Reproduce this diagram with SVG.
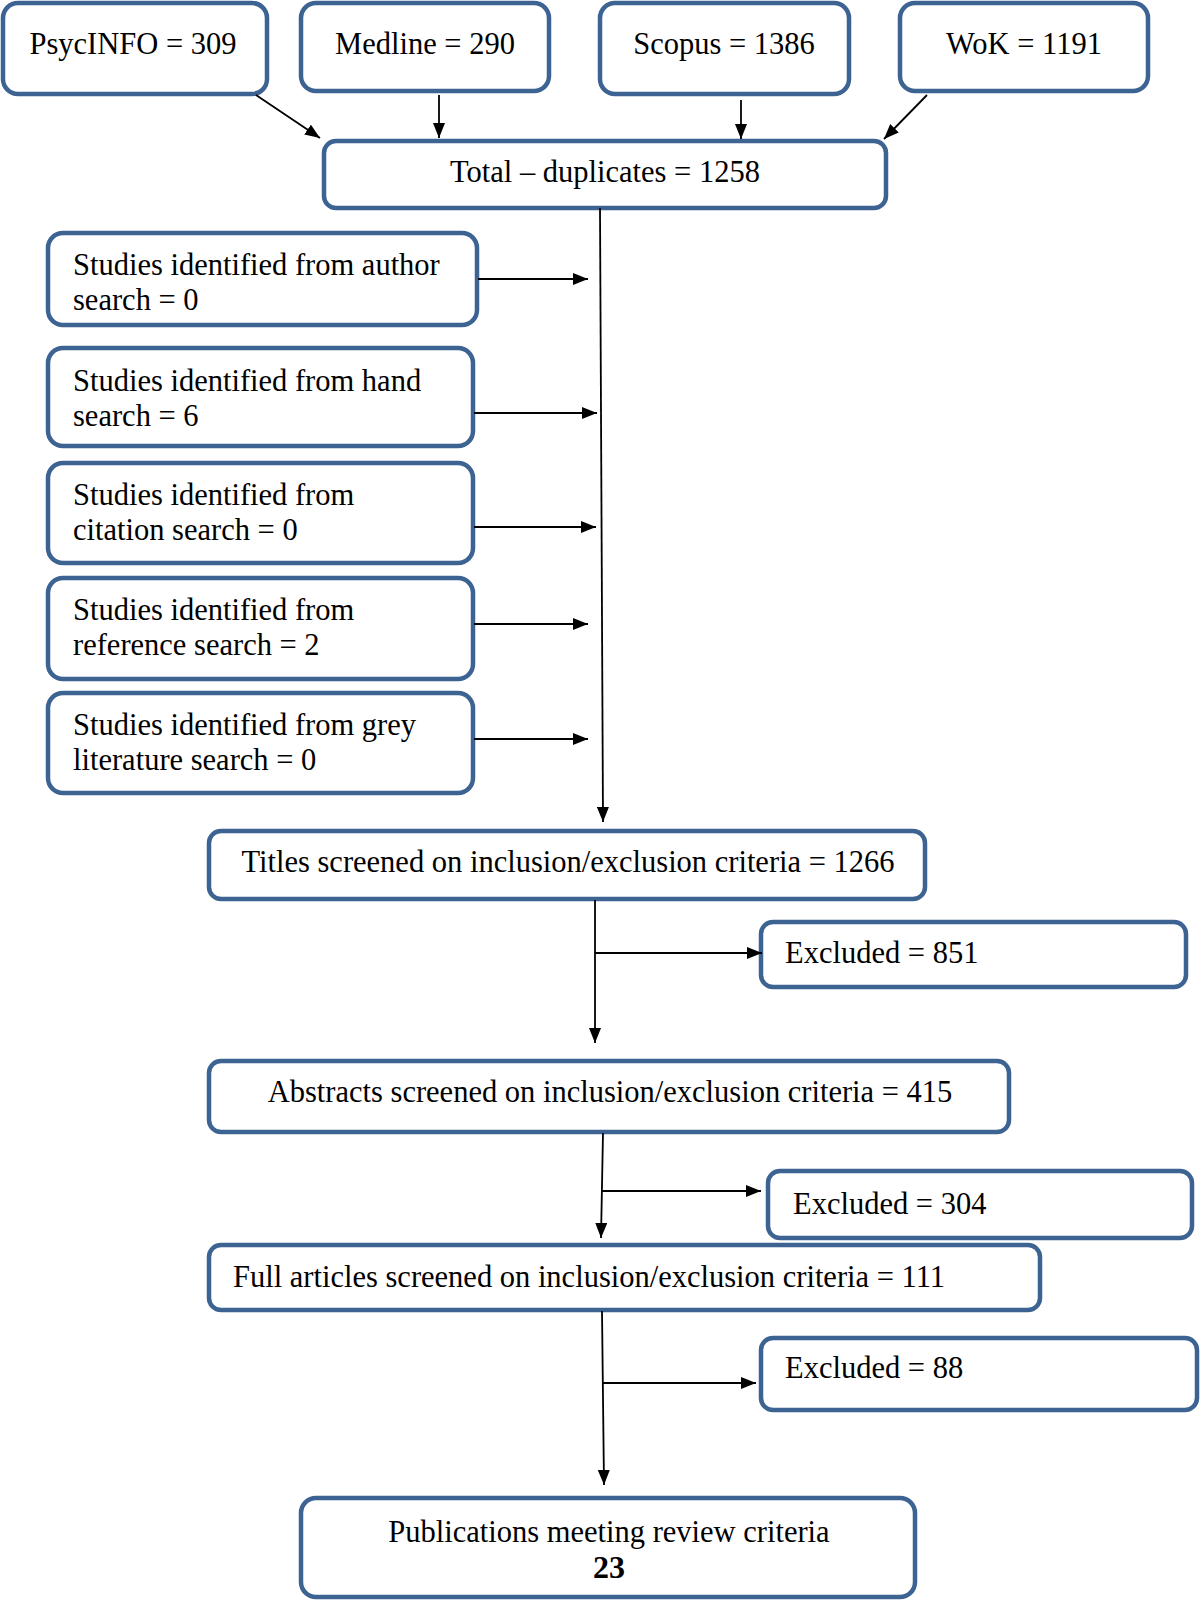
<svg xmlns="http://www.w3.org/2000/svg" width="1200" height="1601" viewBox="0 0 1200 1601">
<style>
.box{fill:#fff;stroke:#3d6393;stroke-width:4.5}
.t{font-family:"Liberation Serif","Times New Roman",serif;font-size:30.5px;fill:#000}
.c{text-anchor:middle}
.b{font-weight:bold}
.ln{stroke:#000;stroke-width:1.8;fill:none;marker-end:url(#ah)}
</style>
<defs>
<marker id="ah" viewBox="0 0 15 12" refX="15" refY="6" markerWidth="15" markerHeight="12" markerUnits="userSpaceOnUse" orient="auto">
<path d="M0,0 L15,6 L0,12 z" fill="#000"/>
</marker>
</defs>
<rect width="1200" height="1601" fill="#fff"/>
<g id="psycinfo"><rect class="box" x="3" y="3" width="264" height="91" rx="15"/><text class="t c" x="133" y="54">PsycINFO = 309</text></g>
<g id="medline"><rect class="box" x="301" y="3" width="248" height="88" rx="15"/><text class="t c" x="425" y="54">Medline = 290</text></g>
<g id="scopus"><rect class="box" x="600" y="3" width="249" height="91" rx="15"/><text class="t c" x="724" y="54">Scopus = 1386</text></g>
<g id="wok"><rect class="box" x="900" y="3" width="248" height="88" rx="15"/><text class="t c" x="1024" y="54">WoK = 1191</text></g>
<g id="total"><rect class="box" x="324" y="141" width="562" height="67" rx="12"/><text class="t c" x="605" y="182">Total – duplicates = 1258</text></g>
<g id="author"><rect class="box" x="48" y="233" width="429" height="92" rx="15"/><text class="t" x="73" y="275">Studies identified from author</text><text class="t" x="73" y="310">search = 0</text></g>
<g id="hand"><rect class="box" x="48" y="348" width="425" height="98" rx="15"/><text class="t" x="73" y="391">Studies identified from hand</text><text class="t" x="73" y="426">search = 6</text></g>
<g id="citation"><rect class="box" x="48" y="463" width="425" height="100" rx="15"/><text class="t" x="73" y="505">Studies identified from</text><text class="t" x="73" y="540">citation search = 0</text></g>
<g id="reference"><rect class="box" x="48" y="578" width="425" height="101" rx="15"/><text class="t" x="73" y="620">Studies identified from</text><text class="t" x="73" y="655">reference search = 2</text></g>
<g id="grey"><rect class="box" x="48" y="693" width="425" height="100" rx="15"/><text class="t" x="73" y="735">Studies identified from grey</text><text class="t" x="73" y="770">literature search = 0</text></g>
<g id="titles"><rect class="box" x="209" y="831" width="716" height="68" rx="12"/><text class="t c" x="568" y="872">Titles screened on inclusion/exclusion criteria = 1266</text></g>
<g id="excl851"><rect class="box" x="761" y="922" width="425" height="65" rx="12"/><text class="t" x="785" y="963">Excluded = 851</text></g>
<g id="abstracts"><rect class="box" x="209" y="1061" width="800" height="71" rx="12"/><text class="t c" x="610" y="1102">Abstracts screened on inclusion/exclusion criteria = 415</text></g>
<g id="excl304"><rect class="box" x="768" y="1171" width="424" height="67" rx="12"/><text class="t" x="793" y="1214">Excluded = 304</text></g>
<g id="full"><rect class="box" x="209" y="1245" width="831" height="65" rx="12"/><text class="t" x="233" y="1287">Full articles screened on inclusion/exclusion criteria = 111</text></g>
<g id="excl88"><rect class="box" x="761" y="1338" width="436" height="72" rx="12"/><text class="t" x="785" y="1378">Excluded = 88</text></g>
<g id="publications"><rect class="box" x="301" y="1498" width="614" height="99" rx="15"/><text class="t c" x="609" y="1542">Publications meeting review criteria</text><text class="t c b" x="609" y="1578" style="font-size:32px">23</text></g>
<g id="connectors">
<line class="ln" x1="256" y1="95" x2="320" y2="138"/>
<line class="ln" x1="439" y1="95" x2="439" y2="138"/>
<line class="ln" x1="741" y1="100" x2="741" y2="139"/>
<line class="ln" x1="927" y1="95" x2="884" y2="139"/>
<line class="ln" x1="600" y1="208" x2="603" y2="822"/>
<line class="ln" x1="478" y1="279" x2="588" y2="279"/>
<line class="ln" x1="474" y1="413" x2="597" y2="413"/>
<line class="ln" x1="474" y1="527" x2="596" y2="527"/>
<line class="ln" x1="474" y1="624" x2="588" y2="624"/>
<line class="ln" x1="474" y1="739" x2="588" y2="739"/>
<line class="ln" x1="595" y1="900" x2="595" y2="1043"/>
<line class="ln" x1="595" y1="953" x2="762" y2="953"/>
<line class="ln" x1="603" y1="1133" x2="601" y2="1238"/>
<line class="ln" x1="602" y1="1191" x2="761" y2="1191"/>
<line class="ln" x1="602" y1="1311" x2="604" y2="1485"/>
<line class="ln" x1="603" y1="1383" x2="756" y2="1383"/>
</g>
</svg>
